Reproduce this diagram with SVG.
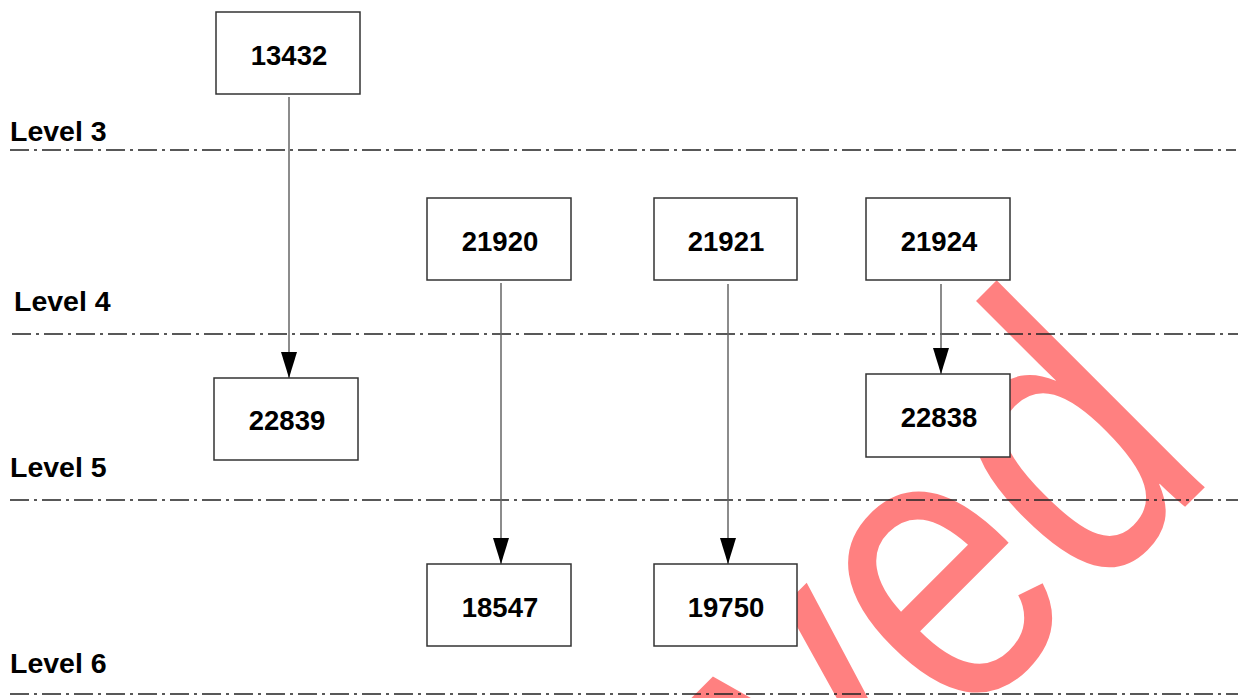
<svg xmlns="http://www.w3.org/2000/svg" width="1238" height="698" viewBox="0 0 1238 698">
  <defs>
    <marker id="arrow" markerUnits="userSpaceOnUse" markerWidth="26" markerHeight="16" refX="26" refY="8" orient="auto">
      <path d="M0,0 L26,8 L0,16 Z" fill="#000"/>
    </marker>
    <style>
      .lvl { font-family: "Liberation Sans", Arial, sans-serif; font-weight: bold; font-size: 28.5px; fill: #000; }
      .sep { stroke: #222; stroke-width: 1.4; stroke-dasharray: 19 5 3 5; fill: none; }
      .conn { stroke: #666; stroke-width: 1.5; fill: none; marker-end: url(#arrow); }
      .box { fill: #fff; stroke: #333; stroke-width: 1.5; }
      .lbl { font-family: "Liberation Sans", Arial, sans-serif; font-weight: bold; font-size: 27.5px; fill: #000; text-anchor: middle; }
      .wm { font-family: "Liberation Sans", Arial, sans-serif; font-size: 405px; fill: #FF8080; text-anchor: end; }
    </style>
  </defs>
  <rect x="0" y="0" width="1238" height="698" fill="#fff"/>

  <text class="wm" transform="translate(1220,472) rotate(-45) scale(0.82,1)" x="0" y="0">ved</text>

  <g id="levels">
    <text class="lvl" x="10" y="141">Level 3</text>
    <line class="sep" x1="10" y1="150" x2="1236" y2="150"/>
    <text class="lvl" x="14" y="311">Level 4</text>
    <line class="sep" x1="12" y1="334" x2="1238" y2="334"/>
    <text class="lvl" x="10" y="477">Level 5</text>
    <line class="sep" x1="10" y1="500" x2="1238" y2="500"/>
    <text class="lvl" x="10" y="673">Level 6</text>
    <line class="sep" x1="10" y1="694" x2="1238" y2="694"/>
  </g>

  <g id="connectors">
    <line class="conn" x1="289" y1="97" x2="289" y2="378"/>
    <line class="conn" x1="501" y1="283" x2="501" y2="564"/>
    <line class="conn" x1="728" y1="284" x2="728" y2="564"/>
    <line class="conn" x1="941" y1="284" x2="941" y2="374"/>
  </g>

  <g id="n13432"><rect class="box" x="216" y="12" width="144" height="82"/><text class="lbl" x="289" y="65">13432</text></g>
  <g id="n21920"><rect class="box" x="427" y="198" width="144" height="82"/><text class="lbl" x="500" y="251">21920</text></g>
  <g id="n21921"><rect class="box" x="654" y="198" width="143" height="82"/><text class="lbl" x="726" y="251">21921</text></g>
  <g id="n21924"><rect class="box" x="866" y="198" width="144" height="82"/><text class="lbl" x="939" y="251">21924</text></g>
  <g id="n22839"><rect class="box" x="214" y="378" width="144" height="82"/><text class="lbl" x="287" y="430">22839</text></g>
  <g id="n22838"><rect class="box" x="866" y="374" width="144" height="83"/><text class="lbl" x="939" y="427">22838</text></g>
  <g id="n18547"><rect class="box" x="427" y="564" width="144" height="82"/><text class="lbl" x="500" y="617">18547</text></g>
  <g id="n19750"><rect class="box" x="654" y="564" width="143" height="82"/><text class="lbl" x="726" y="617">19750</text></g>
</svg>
